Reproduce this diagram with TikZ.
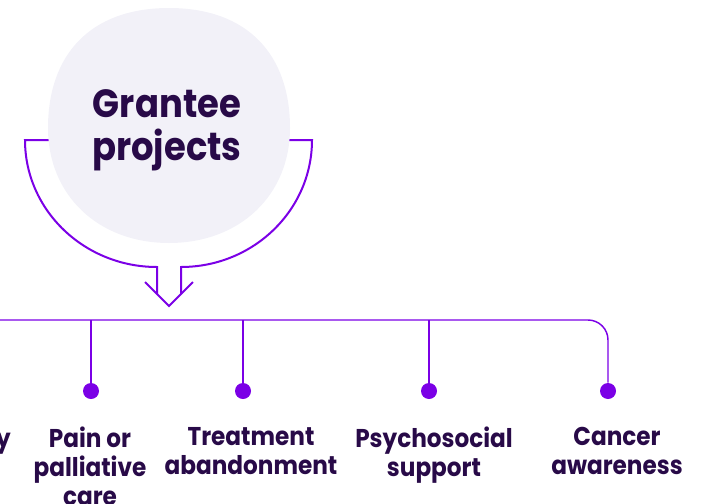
\documentclass[tikz,border=0pt]{standalone}
\usepackage{fontspec}
\setmainfont{Poppins}[FakeStretch=0.9]
\usetikzlibrary{positioning}

\definecolor{gpurple}{RGB}{123,0,230}
\definecolor{gink}{RGB}{40,10,72}
\definecolor{gblob}{RGB}{242,241,248}

\tikzset{
  funnel/.style={gpurple, line width=1.5pt},
  bus/.style={gpurple, line width=1.1pt},
  branch/.style={gpurple, line width=0.8pt},
  pin/.style={circle, fill=gpurple, inner sep=0pt, minimum size=12pt},
  title/.style={text=gink, font=\bfseries\fontsize{29.5}{32}\selectfont, align=center},
  topic/.style={text=gink, font=\bfseries\fontsize{19.3}{21.75}\selectfont, align=center, anchor=north, inner sep=0pt},
}

\begin{document}
\begin{tikzpicture}[x=0.75pt, y=-0.75pt]
    \useasboundingbox (0,0) rectangle (702,503);

    % arrow round the title
    \draw[funnel] (70,140) -- (25,140) arc[start angle=180, end angle=90, x radius=132, y radius=127] -- (157,294);
    \draw[funnel] (270,140) -- (312,140) arc[start angle=0, end angle=90, x radius=131, y radius=127] -- (181,294);
    \draw[funnel] (145,282) -- (169,306) -- (193,282);

    % title blob
    \fill[gblob] (169,8) .. controls (248,8) and (290,55) .. (290,128)
        .. controls (290,195) and (240,243) .. (169,243)
        .. controls (98,243) and (48,195) .. (48,128)
        .. controls (48,55) and (90,8) .. (169,8) -- cycle;
    \node[title] (grantee) at (167,130) {Grantee\\projects};

    % pins
    \node[pin] (d1) at (-61,391) {};
    \node[pin] (d2) at (91,391) {};
    \node[pin] (d3) at (243,391) {};
    \node[pin] (d4) at (429,391) {};
    \node[pin] (d5) at (608,391) {};

    \coordinate (busstart) at (-61,320);
    \draw[bus, rounded corners=15pt] (busstart) -| (d5);
    \foreach \d in {d1,d2,d3,d4}
        \draw[branch] (\d |- busstart) -- (\d);

    % topics
    \node[topic] (t1) at (-61,427) {Community\\education};
    \node[topic] (t2) at (90,427) {Pain or\\palliative\\care};
    \node[topic] (t3) at (251,427) {Treatment\\abandonment};
    \node[topic] (t4) at (434,427) {Psychosocial\\support};
    \node[topic] (t5) at (617,427) {Cancer\\awareness};
\end{tikzpicture}
\end{document}
